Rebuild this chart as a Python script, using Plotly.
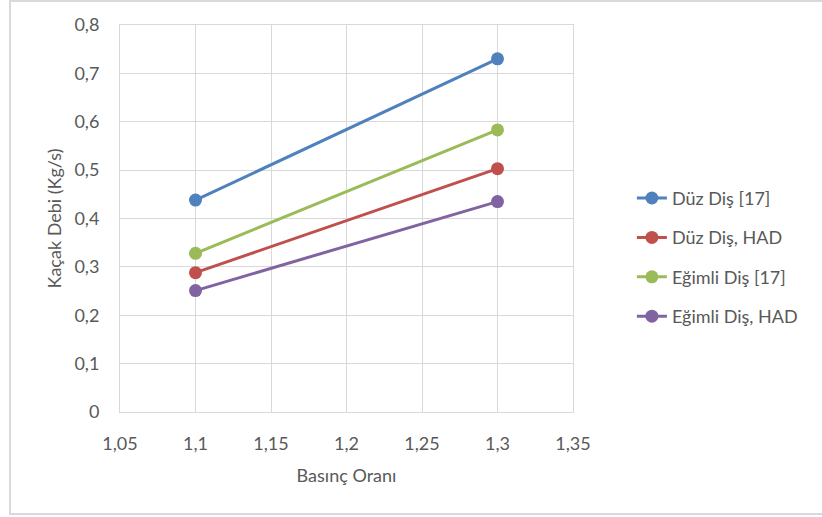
import plotly.graph_objects as go

# Basınç oranı (x) ve kaçak debi (y) verileri
basinc_orani = [1.1, 1.3]
duz_dis_ref = [0.438, 0.730]
duz_dis_had = [0.288, 0.503]
egimli_dis_ref = [0.328, 0.583]
egimli_dis_had = [0.251, 0.435]

seri_adlari = ["Düz Diş [17]", "Düz Diş, HAD", "Eğimli Diş [17]", "Eğimli Diş, HAD"]
seri_renkleri = ["#4F81BD", "#C0504D", "#9BBB59", "#8064A2"]

x_tick_vals = [1.05, 1.1, 1.15, 1.2, 1.25, 1.3, 1.35]
x_tick_text = ["1,05", "1,1", "1,15", "1,2", "1,25", "1,3", "1,35"]
y_tick_vals = [0, 0.1, 0.2, 0.3, 0.4, 0.5, 0.6, 0.7, 0.8]
y_tick_text = ["0", "0,1", "0,2", "0,3", "0,4", "0,5", "0,6", "0,7", "0,8"]

FONT = "Lato, 'Open Sans', sans-serif"
FS = 18
TEXT_COLOR = "#595959"
GRID = "#D9D9D9"

fig = go.Figure()
for i, (ad, renk, degerler) in enumerate(
    zip(seri_adlari, seri_renkleri, [duz_dis_ref, duz_dis_had, egimli_dis_ref, egimli_dis_had])
):
    fig.add_trace(
        go.Scatter(
            x=basinc_orani,
            y=degerler,
            name=ad,
            legendgroup=f"g{i}",
            mode="lines+markers",
            line=dict(color=renk, width=3),
            marker=dict(color=renk, size=13),
        )
    )

fig.update_layout(
    width=822,
    height=517,
    margin=dict(l=120, r=249, t=25, b=105),
    paper_bgcolor="white",
    plot_bgcolor="white",
    font=dict(family=FONT, size=FS, color=TEXT_COLOR),
    showlegend=True,
    legend=dict(
        x=1.13,
        y=0.6,
        xanchor="left",
        yanchor="top",
        traceorder="grouped",
        tracegroupgap=13,
        font=dict(size=FS, color=TEXT_COLOR),
        bgcolor="rgba(0,0,0,0)",
    ),
    xaxis=dict(
        range=[1.05, 1.35],
        tickvals=x_tick_vals,
        ticktext=x_tick_text,
        showgrid=True,
        gridcolor=GRID,
        gridwidth=1,
        showline=True,
        linecolor=GRID,
        linewidth=1,
        mirror=True,
        zeroline=False,
        ticks="outside",
        ticklen=15,
        tickcolor="rgba(0,0,0,0)",
        title=dict(text="Basınç Oranı", standoff=16, font=dict(size=FS, color=TEXT_COLOR)),
    ),
    yaxis=dict(
        range=[0, 0.8],
        tickvals=y_tick_vals,
        ticktext=y_tick_text,
        showgrid=True,
        gridcolor=GRID,
        gridwidth=1,
        showline=True,
        linecolor=GRID,
        linewidth=1,
        mirror=True,
        zeroline=False,
        ticks="outside",
        ticklen=16,
        tickcolor="rgba(0,0,0,0)",
        title=dict(text="Kaçak Debi (Kg/s)", standoff=8, font=dict(size=FS, color=TEXT_COLOR)),
    ),
    shapes=[
        dict(
            type="rect",
            xref="paper",
            yref="paper",
            x0=-110 / 453,
            x1=1.75,
            y0=-102 / 387,
            y1=411 / 387,
            line=dict(color=GRID, width=2),
            fillcolor="rgba(0,0,0,0)",
            layer="below",
        )
    ],
)

fig.write_html("out.html")
